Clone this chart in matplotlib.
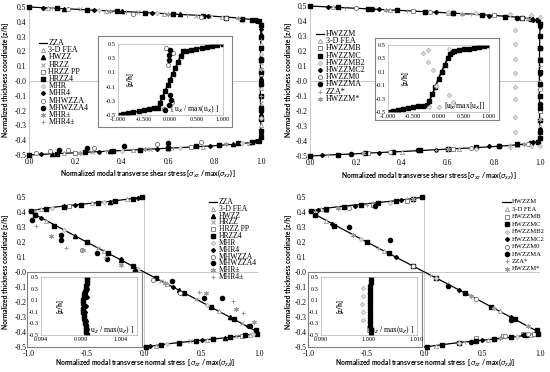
import numpy as np
import matplotlib.pyplot as plt

plt.rcParams['font.family'] = ['Liberation Serif', 'DejaVu Sans']
plt.rcParams['mathtext.fontset'] = 'dejavusans'

GRAY = '#9a9a9a'
LIGHT = '#dadada'
AXIS = '#c0c0c0'

STYLE = {
    'tri_open': dict(marker='^', mfc='white', mec=GRAY, ms=3, mew=0.6),
    'tri_fill': dict(marker='^', mfc='black', mec='black', ms=3),
    'x': dict(marker='x', mec=GRAY, ms=3, mew=0.7),
    'sq_open': dict(marker='s', mfc='white', mec='#707070', ms=3, mew=0.6),
    'sq_fill': dict(marker='s', mfc='black', mec='black', ms=2.8),
    'dia_gray': dict(marker='D', mfc=LIGHT, mec='#b4b4b4', ms=2.4, mew=0.5),
    'dia_black': dict(marker='D', mfc='black', mec='black', ms=2),
    'circ_open': dict(marker='o', mfc='white', mec='#707070', ms=3, mew=0.6),
    'circ_fill': dict(marker='o', mfc='black', mec='black', ms=3),
    'star': dict(marker=(6, 2, 0), mec=GRAY, ms=3.5, mew=0.7),
    'plus': dict(marker='+', mec=GRAY, ms=3.5, mew=0.7),
}

# ---------------- top-left: shear stress, ZZA family ----------------
tl_zza_x = [0.0, 0.1, 0.2, 0.3, 0.4, 0.5, 0.6, 0.7, 0.8, 0.9, 0.97, 1.0, 0.998, 0.997,
            0.998, 1.0, 0.97, 0.9, 0.8, 0.7, 0.6, 0.5, 0.4, 0.3, 0.2, 0.1, 0.0]
tl_zza_z = [0.5, 0.492, 0.485, 0.477, 0.47, 0.462, 0.454, 0.446, 0.437, 0.426, 0.413, 0.4, 0.2, 0.0,
            -0.2, -0.4, -0.413, -0.426, -0.437, -0.446, -0.454, -0.462, -0.47, -0.477, -0.485, -0.492, -0.5]
tl_fea_x = [0.08, 0.33, 0.58, 0.83, 1.0, 1.0, 1.0, 0.15, 0.45, 0.75, 0.95]
tl_fea_z = [0.493, 0.474, 0.456, 0.431, 0.25, -0.05, -0.3, -0.489, -0.466, -0.444, -0.417]
tl_hwzz_x = [0.15, 0.4, 0.65, 0.92, 1.0, 1.0, 1.0, 0.1, 0.35, 0.6, 0.88]
tl_hwzz_z = [0.489, 0.47, 0.45, 0.421, 0.32, 0.02, -0.22, -0.492, -0.474, -0.455, -0.425]
tl_hrzz_x = [0.22, 0.47, 0.72, 0.97, 1.0, 1.0, 0.27, 0.52, 0.82]
tl_hrzz_z = [0.484, 0.464, 0.44, 0.41, 0.12, -0.15, -0.48, -0.46, -0.434]
tl_hrzzpp_x = [0.5, 0.85, 1.0, 1.0, 0.2, 0.7]
tl_hrzzpp_z = [0.462, 0.428, 0.05, -0.35, -0.485, -0.446]
tl_hrzz4_x = [0.0, 0.12, 0.25, 0.38, 0.5, 0.62, 0.75, 0.85, 0.92, 0.96, 0.99,
              1.0, 1.0, 1.0, 1.0, 1.0, 1.0, 1.0, 1.0, 1.0, 1.0, 1.0,
              0.99, 0.96, 0.9, 0.82, 0.72, 0.6, 0.48, 0.36, 0.24, 0.12, 0.0]
tl_hrzz4_z = [0.5, 0.491, 0.481, 0.471, 0.462, 0.452, 0.441, 0.428, 0.42, 0.412, 0.405,
              0.38, 0.3, 0.22, 0.14, 0.06, -0.02, -0.1, -0.18, -0.26, -0.34, -0.38,
              -0.405, -0.412, -0.421, -0.432, -0.44, -0.452, -0.463, -0.473, -0.482, -0.491, -0.5]
tl_mhr_x = [0.3, 0.55, 0.78, 1.0, 1.0, 0.4, 0.65, 0.92]
tl_mhr_z = [0.477, 0.458, 0.436, 0.18, -0.25, -0.47, -0.451, -0.42]
tl_mhr4_x = [0.06, 0.28, 0.53, 0.77, 0.98, 1.0, 1.0, 1.0, 0.05, 0.3, 0.55, 0.78, 0.98]
tl_mhr4_z = [0.495, 0.478, 0.46, 0.437, 0.408, 0.35, 0.0, -0.35, -0.496, -0.477, -0.458, -0.436, -0.408]
tl_mhwzza_x = [0.17, 0.45, 0.74, 0.85, 0.03, 0.09, 0.17, 0.28, 0.55, 0.74]
tl_mhwzza_z = [0.485, 0.455, 0.433, 0.428, -0.485, -0.475, -0.465, -0.452, -0.428, -0.412]
tl_mhwzza4_x = [0.13, 0.25, 0.41, 0.6, 0.98, 1.0, 1.0]
tl_mhwzza4_z = [-0.468, -0.452, -0.437, -0.422, 0.41, 0.15, -0.2]
tl_mhrpm_x = [0.35, 0.6, 0.9, 1.0, 0.22, 0.5, 0.85]
tl_mhrpm_z = [0.473, 0.454, 0.423, 0.08, -0.484, -0.461, -0.428]
tl_mhr4pm_x = [0.1, 0.42, 0.68, 1.0, 1.0, 0.33, 0.62, 0.95]
tl_mhr4pm_z = [0.492, 0.468, 0.447, 0.28, -0.1, -0.475, -0.452, -0.417]
# inset: in-plane displacement
tl_in_x = [-1.0, -0.9, -0.8, -0.7, -0.6, -0.5, -0.4, -0.3, -0.24, -0.2, -0.15, -0.1, -0.05, 0.0,
           0.05, 0.1, 0.15, 0.2, 0.24, 0.3, 0.4, 0.5, 0.6, 0.7, 0.8, 0.9, 1.0]
tl_in_z = [-0.5, -0.487, -0.474, -0.461, -0.447, -0.434, -0.421, -0.408, -0.4, -0.333, -0.25, -0.167,
           -0.083, 0.0, 0.083, 0.167, 0.25, 0.333, 0.4, 0.408, 0.421, 0.434, 0.447, 0.461, 0.474, 0.487, 0.5]
tl_in_c4_x = [0.0, -0.02, -0.03, 0.0, 0.01, -0.02, -0.1]
tl_in_c4_z = [0.415, 0.345, 0.275, -0.22, -0.29, -0.36, -0.43]
tl_in_c_x = [-0.08, 0.05, -0.05, 0.03, -0.12]
tl_in_c_z = [0.44, 0.38, 0.2, -0.32, -0.42]

# ---------------- top-right: shear stress, HWZZM family ----------------
tr_line_x = tl_zza_x
tr_line_z = tl_zza_z
tr_fea_x = [0.1, 0.35, 0.6, 0.85, 1.0, 1.0, 1.0, 0.12, 0.4, 0.65, 0.9]
tr_fea_z = [0.492, 0.473, 0.454, 0.429, 0.3, 0.0, -0.3, -0.491, -0.47, -0.45, -0.424]
tr_mb_x = [0.45, 0.8, 1.0, 1.0, 0.25, 0.62]
tr_mb_z = [0.465, 0.437, 0.15, -0.2, -0.481, -0.452]
tr_mc_x = tl_hrzz4_x
tr_mc_z = tl_hrzz4_z
tr_mb2_x = [0.6, 0.72, 0.87, 0.96, 1.0, 0.89, 0.89, 0.89, 0.89, 0.89, 0.89, 0.89, 0.89,
            0.72, 0.87, 0.96, 1.0]
tr_mb2_z = [0.458, 0.452, 0.447, 0.44, 0.43, 0.34, 0.25, 0.145, 0.056, -0.04, -0.12, -0.24, -0.34,
            -0.453, -0.44, -0.43, -0.43]
tr_mc2_x = [0.08, 0.3, 0.55, 0.78, 0.97, 1.0, 1.0, 1.0, 0.05, 0.3, 0.55, 0.78, 0.97]
tr_mc2_z = [0.494, 0.477, 0.458, 0.436, 0.409, 0.36, 0.05, -0.32, -0.496, -0.477, -0.458, -0.436, -0.409]
tr_m0_x = [0.2, 0.52, 0.92, 1.0, 0.35, 0.7, 0.95]
tr_m0_z = [0.486, 0.46, 0.42, -0.05, -0.474, -0.445, -0.418]
tr_ma_x = [0.27, 0.62, 0.9, 1.0, 1.0, 0.18, 0.47, 0.82]
tr_ma_z = [0.48, 0.452, 0.423, 0.22, -0.15, -0.487, -0.463, -0.432]
tr_zzas_x = [0.15, 0.42, 0.7, 1.0, 0.08, 0.55, 0.87]
tr_zzas_z = [0.489, 0.468, 0.445, 0.1, -0.494, -0.457, -0.426]
tr_ms_x = [0.33, 0.66, 0.95, 1.0, 0.23, 0.6, 0.93]
tr_ms_z = [0.474, 0.448, 0.416, -0.25, -0.483, -0.453, -0.42]
tr_in_x = [-1.0, -0.9, -0.8, -0.7, -0.6, -0.5, -0.4, -0.3, -0.22, -0.18, -0.12, -0.06, 0.0,
           0.06, 0.12, 0.18, 0.22, 0.26, 0.3, 0.4, 0.5, 0.6, 0.7, 0.8, 0.9, 1.0]
tr_in_z = [-0.5, -0.486, -0.472, -0.458, -0.444, -0.431, -0.417, -0.403, -0.4, -0.33, -0.23, -0.12, 0.0,
           0.1, 0.2, 0.3, 0.36, 0.4, 0.405, 0.419, 0.433, 0.446, 0.46, 0.473, 0.487, 0.5]
tr_in_b2_x = [-0.3, -0.2, -0.2, -0.1, -0.04, 0.2, 0.28, 0.22, 0.0, -0.18, 0.2]
tr_in_b2_z = [0.38, 0.42, 0.25, 0.12, -0.11, -0.24, -0.35, -0.41, -0.42, -0.43, 0.44]

# ---------------- bottom-left: normal stress, ZZA family ----------------
bl_zza_x = [0.0, -0.25, -0.5, -0.75, -0.9, -1.0, -0.5, 0.0, 0.5, 1.0, 0.9, 0.75, 0.5, 0.25, 0.0]
bl_zza_z = [0.5, 0.475, 0.455, 0.435, 0.42, 0.405, 0.2, 0.0, -0.2, -0.405, -0.42, -0.435, -0.455, -0.475, -0.5]
bl_fea_x = [-0.9, -0.45, -0.15, -0.85, -0.35, 0.2, 0.65, 0.1, 0.55, 0.92]
bl_fea_z = [0.42, 0.458, 0.485, 0.34, 0.14, -0.08, -0.26, -0.49, -0.451, -0.418]
bl_hwzz_x = [-0.7, -0.3, -0.6, -0.2, 0.3, 0.75, 0.3, 0.7]
bl_hwzz_z = [0.437, 0.47, 0.24, 0.08, -0.12, -0.3, -0.47, -0.438]
bl_hrzz_x = [-0.95, -0.55, -0.1, -0.4, 0.15, 0.45, 0.85, 0.4, 0.8]
bl_hrzz_z = [0.41, 0.45, 0.488, 0.16, -0.06, -0.18, -0.34, -0.462, -0.429]
bl_hrzzpp_x = [-0.65, -0.25, 0.35, 0.85, 0.6]
bl_hrzzpp_z = [0.44, 0.475, -0.14, -0.425, -0.446]
bl_hrzz4_x = [-0.98, -0.85, -0.7, -0.55, -0.4, -0.25, -0.1, -0.02,
              -0.95, -0.78, -0.5, -0.31, -0.1, 0.1, 0.35, 0.58, 0.78, 0.97,
              0.02, 0.15, 0.3, 0.45, 0.6, 0.75, 0.88, 0.98]
bl_hrzz4_z = [0.41, 0.422, 0.436, 0.447, 0.46, 0.474, 0.488, 0.497,
              0.38, 0.31, 0.2, 0.125, 0.04, -0.04, -0.14, -0.232, -0.312, -0.388,
              -0.497, -0.485, -0.472, -0.46, -0.447, -0.434, -0.422, -0.41]
bl_mhr_x = [-0.8, -0.35, -0.7, -0.05, 0.55, 0.2, 0.95]
bl_mhr_z = [0.43, 0.465, 0.28, 0.02, -0.22, -0.48, -0.412]
bl_mhr4_x = [-0.6, -0.05, -0.9, -0.2, 0.25, 0.9, 0.5, 0.05]
bl_mhr4_z = [0.445, 0.495, 0.36, 0.09, -0.1, -0.36, -0.455, -0.495]
bl_mhwzza_x = [-0.54, 0.08, 0.31]
bl_mhwzza_z = [0.147, -0.05, -0.14]
bl_mhwzza4_x = [-0.97, -0.72, -0.72, -0.41, -0.32, -0.08, 0.24, 0.52, 0.68, 0.92]
bl_mhwzza4_z = [0.346, 0.245, 0.214, 0.13, 0.09, 0.005, -0.06, -0.17, -0.17, -0.36]
bl_mhrpm_x = [-0.81, -0.53, -0.2, 0.18, 0.54, 0.8, 0.96]
bl_mhrpm_z = [0.24, 0.15, 0.05, -0.07, -0.14, -0.245, -0.33]
bl_mhr4pm_x = [-0.94, -0.68, -0.34, 0.48, 0.77, 0.86]
bl_mhr4pm_z = [0.31, 0.16, 0.1, -0.13, -0.19, -0.27]
bl_in_z = [0.5, 0.45, 0.4, 0.35, 0.3, 0.25, 0.2, 0.15, 0.1, 0.05, 0.0, -0.05, -0.1, -0.15, -0.2,
           -0.25, -0.3, -0.35, -0.4, -0.45, -0.5]
bl_in_x = [0.9997, 0.9997, 0.9997, 0.9996, 0.9996, 0.9995, 0.9994, 0.9994, 0.9993, 0.9993, 0.9994,
           0.9993, 0.9993, 0.9994, 0.9994, 0.9995, 0.9995, 0.9996, 0.9996, 0.9996, 0.9997]
bl_in_d_x = [0.9998, 0.9997, 0.9996, 0.9995, 0.9996, 0.9997]
bl_in_d_z = [0.3, 0.15, 0.0, -0.1, -0.25, -0.4]

# ---------------- bottom-right: normal stress, HWZZM family ----------------
br_line_x = bl_zza_x
br_line_z = bl_zza_z
br_fea_x = [-0.9, -0.45, -0.15, -0.85, -0.35, 0.2, 0.65, 0.1, 0.55, 0.92]
br_fea_z = [0.42, 0.458, 0.485, 0.34, 0.14, -0.08, -0.26, -0.49, -0.451, -0.418]
br_mb_x = [-0.85, -0.45, -0.15, 0.45, 0.68, 0.85, 0.95]
br_mb_z = [0.415, 0.448, 0.475, -0.443, -0.425, -0.415, -0.41]
br_mc_x = bl_hrzz4_x
br_mc_z = bl_hrzz4_z
br_mb2_x = [-0.75, -0.3, -0.55, 0.1, 0.6, 0.3, 0.8]
br_mb2_z = [0.425, 0.462, 0.22, -0.04, -0.24, -0.47, -0.43]
br_mc2_x = [-0.92, -0.6, -0.2, -0.8, -0.25, 0.3, 0.75, 0.15, 0.5, 0.85]
br_mc2_z = [0.415, 0.442, 0.48, 0.32, 0.1, -0.12, -0.3, -0.485, -0.455, -0.42]
br_m0_x = [-0.65, -0.1, 0.45, 0.7, 0.9]
br_m0_z = [0.43, 0.04, -0.18, -0.428, -0.415]
br_ma_x = [-0.43, -0.65, -0.3, 0.2, 0.75, 0.4]
br_ma_z = [0.438, 0.3, 0.215, -0.09, -0.32, -0.465]
br_zzas_x = [-0.95, -0.5, -0.4, 0.05, 0.6, 0.35]
br_zzas_z = [0.41, 0.45, 0.16, -0.02, -0.24, -0.465]
br_ms_x = [-0.75, -0.1, -0.62, 0.4, 0.9, 0.65]
br_ms_z = [0.43, 0.49, 0.25, -0.16, -0.36, -0.44]
br_in_z = bl_in_z
br_in_x = [1.0004, 1.0004, 1.0004, 1.0003, 1.0003, 1.0003, 1.0002, 1.0002, 1.0002, 1.0002, 1.0002,
           1.0002, 1.0002, 1.0002, 1.0002, 1.0003, 1.0003, 1.0003, 1.0004, 1.0004, 1.0004]
br_in_b2_x = [0.9988, 0.9987, 0.9986, 0.9987, 0.9988]
br_in_b2_z = [0.31, 0.17, 0.03, -0.1, -0.24]


def pts(ax, xs, zs, style, clip=False):
    ax.plot(xs, zs, ls='none', clip_on=clip, **STYLE[style])


def key(ax, entries, x0, y0, dy, fs):
    for i, (label, style) in enumerate(entries):
        y = y0 - i * dy
        if style == 'line':
            ax.plot([x0 - 0.018, x0 + 0.018], [y, y], transform=ax.transAxes,
                    color='black', lw=0.9, clip_on=False)
        else:
            ax.plot([x0], [y], transform=ax.transAxes, ls='none', clip_on=False, **STYLE[style])
        ax.text(x0 + 0.024, y, label, transform=ax.transAxes, fontsize=fs, va='center', ha='left')


def px(x0, y0, x1, y1):
    # pixel box (left, top, right, bottom) -> figure fraction rect
    return [x0 / 550, 1 - y1 / 372, (x1 - x0) / 550, (y1 - y0) / 372]


def main_axes(rect, xlim, xticks, fmt):
    ax = fig.add_axes(rect)
    ax.set_xlim(*xlim)
    ax.set_ylim(-0.5, 0.5)
    ax.set_xticks(xticks)
    ax.set_xticklabels([fmt.format(t) for t in xticks])
    yt = np.round(np.arange(-0.5, 0.51, 0.1), 1)
    ax.set_yticks(yt)
    ax.set_yticklabels(['{:.1f}'.format(t) for t in yt])
    ax.tick_params(length=0, labelsize=5.5, pad=2)
    for s in ax.spines.values():
        s.set_visible(False)
    ax.axhline(0, color=AXIS, lw=0.6, zorder=0)
    ax.axvline(0, color=AXIS, lw=0.6, zorder=0)
    return ax


def inset_axes(box, rect, xlim, xticks, fmt, xlab, zlab_x):
    b = fig.add_axes(box)
    b.set_xticks([])
    b.set_yticks([])
    for s in b.spines.values():
        s.set_color('#808080')
        s.set_linewidth(0.8)
    b.set_zorder(3)
    ax = fig.add_axes(rect)
    ax.set_zorder(4)
    ax.set_xlim(*xlim)
    ax.set_ylim(-0.5, 0.5)
    ax.set_xticks(xticks)
    ax.set_xticklabels([fmt.format(t) for t in xticks])
    yt = [-0.5, -0.3, -0.1, 0.1, 0.3, 0.5]
    ax.set_yticks(yt)
    ax.set_yticklabels(['{:.1f}'.format(t) for t in yt])
    ax.tick_params(length=0, labelsize=4.5, pad=1.5)
    for s in ax.spines.values():
        s.set_color('#b0b0b0')
        s.set_linewidth(0.5)
    ax.text(zlab_x, 0.5, '[z/h]', transform=ax.transAxes, rotation=90, fontsize=4.8,
            fontweight='bold', family='Lato', va='center', ha='center')
    ax.text(0.97, 0.08, xlab, transform=ax.transAxes, fontsize=5.5, ha='right', va='center')
    return ax


fig = plt.figure(figsize=(5.5, 3.72), dpi=100)

BOLD = dict(family='Lato', fontweight='bold', fontsize=4.9)
shear_lab = r'Normalized modal transverse shear stress [$\sigma_{xz}$ / max($\sigma_{xz}$) ]'
normal_lab = r'Normalized modal transverse normal stress  [$\sigma_{zz}$ / max($\sigma_{zz}$)]'
ylab = 'Normalized thickness coordinate [z/h]'

# ---- top-left ----
ax = main_axes(px(29, 7, 261, 155), (0, 1), [0, 0.2, 0.4, 0.6, 0.8, 1.0], '{:.1f}')
ax.plot(tl_zza_x, tl_zza_z, color='black', lw=0.9, clip_on=False)
pts(ax, tl_fea_x, tl_fea_z, 'tri_open')
pts(ax, tl_hwzz_x, tl_hwzz_z, 'tri_fill')
pts(ax, tl_hrzz_x, tl_hrzz_z, 'x')
pts(ax, tl_hrzzpp_x, tl_hrzzpp_z, 'sq_open')
pts(ax, tl_hrzz4_x, tl_hrzz4_z, 'sq_fill')
pts(ax, tl_mhr_x, tl_mhr_z, 'dia_gray')
pts(ax, tl_mhr4_x, tl_mhr4_z, 'dia_black')
pts(ax, tl_mhwzza_x, tl_mhwzza_z, 'circ_open')
pts(ax, tl_mhwzza4_x, tl_mhwzza4_z, 'circ_fill')
pts(ax, tl_mhrpm_x, tl_mhrpm_z, 'star')
pts(ax, tl_mhr4pm_x, tl_mhr4pm_z, 'plus')
key(ax, [('ZZA', 'line'), ('3-D FEA', 'tri_open'), ('HWZZ', 'tri_fill'), ('HRZZ', 'x'),
         ('HRZZ PP', 'sq_open'), ('HRZZ4', 'sq_fill'), ('MHR', 'dia_gray'), ('MHR4', 'dia_black'),
         ('MHWZZA', 'circ_open'), ('MHWZZA4', 'circ_fill'), ('MHR\u00b1', 'star'), ('MHR4\u00b1', 'plus')],
    0.06, 0.757, 0.0486, 5.8)
fig.text(148 / 550, 1 - 173 / 372, shear_lab, ha='center', va='center', **BOLD)
fig.text(6 / 550, 1 - 80 / 372, ylab, rotation=90, ha='center', va='center', **BOLD)

ai = inset_axes(px(98, 36, 232, 127), px(117.7, 44, 222.7, 115), (-1, 1),
                [-1, -0.5, 0, 0.5, 1], '{:.3f}', r'[ u$_x$ / max(u$_x$) ]', 0.12)
pts(ai, tl_in_x, tl_in_z, 'sq_fill', True)
ai.plot(tl_in_x, tl_in_z, color='black', lw=1.2)
pts(ai, tl_in_c_x, tl_in_c_z, 'circ_open', True)
pts(ai, tl_in_c4_x, tl_in_c4_z, 'circ_fill', True)

# ---- top-right ----
ax = main_axes(px(310, 6, 540, 156), (0, 1), [0, 0.2, 0.4, 0.6, 0.8, 1.0], '{:.1f}')
ax.plot(tr_line_x, tr_line_z, color='black', lw=0.9, clip_on=False)
pts(ax, tr_fea_x, tr_fea_z, 'tri_open')
pts(ax, tr_mb_x, tr_mb_z, 'sq_open')
pts(ax, tr_mc_x, tr_mc_z, 'sq_fill')
pts(ax, tr_mb2_x, tr_mb2_z, 'dia_gray')
pts(ax, tr_mc2_x, tr_mc2_z, 'dia_black')
pts(ax, tr_m0_x, tr_m0_z, 'circ_open')
pts(ax, tr_ma_x, tr_ma_z, 'circ_fill')
pts(ax, tr_zzas_x, tr_zzas_z, 'plus')
pts(ax, tr_ms_x, tr_ms_z, 'star')
key(ax, [('HWZZM', 'line'), ('3-D FEA', 'tri_open'), ('HWZZMB', 'sq_open'), ('HWZZMC', 'sq_fill'),
         ('HWZZMB2', 'dia_gray'), ('HWZZMC2', 'dia_black'), ('HWZZM0', 'circ_open'),
         ('HWZZMA', 'circ_fill'), ('ZZA*', 'plus'), ('HWZZM*', 'star')],
    0.045, 0.813, 0.048, 5.8)
fig.text(429 / 550, 1 - 175 / 372, shear_lab, ha='center', va='center', **BOLD)
fig.text(288 / 550, 1 - 80 / 372, ylab, rotation=90, ha='center', va='center', **BOLD)

ai = inset_axes(px(375, 38, 499, 120), px(388, 45, 489, 112), (-1, 1),
                [-1, -0.5, 0, 0.5, 1], '{:.3f}', r'[u$_x$/max[u$_x$]]', 0.17)
pts(ai, tr_in_x, tr_in_z, 'sq_fill', True)
ai.plot(tr_in_x, tr_in_z, color='black', lw=1.2)
pts(ai, tr_in_b2_x, tr_in_b2_z, 'dia_gray', True)

# ---- bottom-left ----
ax = main_axes(px(29, 197, 259, 347), (-1, 1), [-1, -0.5, 0, 0.5, 1.0], '{:.1f}')
ax.plot(bl_zza_x, bl_zza_z, color='black', lw=0.9, clip_on=False)
pts(ax, bl_fea_x, bl_fea_z, 'tri_open')
pts(ax, bl_hwzz_x, bl_hwzz_z, 'tri_fill')
pts(ax, bl_hrzz_x, bl_hrzz_z, 'x')
pts(ax, bl_hrzzpp_x, bl_hrzzpp_z, 'sq_open')
pts(ax, bl_hrzz4_x, bl_hrzz4_z, 'sq_fill')
pts(ax, bl_mhr_x, bl_mhr_z, 'dia_gray')
pts(ax, bl_mhr4_x, bl_mhr4_z, 'dia_black')
pts(ax, bl_mhwzza_x, bl_mhwzza_z, 'circ_open')
pts(ax, bl_mhwzza4_x, bl_mhwzza4_z, 'circ_fill')
pts(ax, bl_mhrpm_x, bl_mhrpm_z, 'star')
pts(ax, bl_mhr4pm_x, bl_mhr4pm_z, 'plus')
key(ax, [('ZZA', 'line'), ('3-D FEA', 'tri_open'), ('HWZZ', 'tri_fill'), ('HRZZ', 'x'),
         ('HRZZ PP', 'sq_open'), ('HRZZ4', 'sq_fill'), ('MHR', 'dia_gray'), ('MHR4', 'dia_black'),
         ('MHWZZA', 'circ_open'), ('MHWZZA4', 'circ_fill'), ('MHR\u00b1', 'star'), ('MHR4\u00b1', 'plus')],
    0.80, 0.967, 0.0455, 5.5)
fig.text(145 / 550, 1 - 362 / 372, normal_lab, ha='center', va='center', **BOLD)
fig.text(6 / 550, 1 - 272 / 372, ylab, rotation=90, ha='center', va='center', **BOLD)

ai = inset_axes(px(27, 272, 142, 347), px(41, 277, 137, 335), (0.994, 1.006),
                [0.994, 0.999, 1.004], '{:.3f}', r'[ u$_z$ / max(u$_z$) ]', 0.2)
pts(ai, bl_in_x, bl_in_z, 'sq_fill', True)
pts(ai, bl_in_d_x, bl_in_d_z, 'dia_black', True)

# ---- bottom-right ----
ax = main_axes(px(309, 197, 540, 347), (-1, 1), [-1, -0.5, 0, 0.5, 1.0], '{:.1f}')
ax.plot(br_line_x, br_line_z, color='black', lw=0.9, clip_on=False)
pts(ax, br_fea_x, br_fea_z, 'tri_open')
pts(ax, br_mb_x, br_mb_z, 'sq_open')
pts(ax, br_mc_x, br_mc_z, 'sq_fill')
pts(ax, br_mb2_x, br_mb2_z, 'dia_gray')
pts(ax, br_mc2_x, br_mc2_z, 'dia_black')
pts(ax, br_m0_x, br_m0_z, 'circ_open')
pts(ax, br_ma_x, br_ma_z, 'circ_fill')
pts(ax, br_zzas_x, br_zzas_z, 'plus')
pts(ax, br_ms_x, br_ms_z, 'star')
key(ax, [('HWZZM', 'line'), ('3-D FEA', 'tri_open'), ('HWZZMB', 'sq_open'), ('HWZZMC', 'sq_fill'),
         ('HWZZMB2', 'dia_gray'), ('HWZZMC2', 'dia_black'), ('HWZZM0', 'circ_open'),
         ('HWZZMA', 'circ_fill'), ('ZZA*', 'plus'), ('HWZZM*', 'star')],
    0.855, 0.967, 0.0496, 4.8)
fig.text(425 / 550, 1 - 362 / 372, normal_lab, ha='center', va='center', **BOLD)
fig.text(288 / 550, 1 - 272 / 372, ylab, rotation=90, ha='center', va='center', **BOLD)

ai = inset_axes(px(308, 272, 422, 347), px(321, 277, 417, 335), (0.99, 1.01),
                [0.99, 1.0, 1.01], '{:.3f}', r'[ u$_z$ / max(u$_z$) ]', 0.2)
ai.plot(br_in_x, br_in_z, color='black', lw=1.5)
pts(ai, br_in_x, br_in_z, 'circ_fill', True)
pts(ai, br_in_b2_x, br_in_b2_z, 'dia_gray', True)

fig.savefig('out.png', dpi=100)
